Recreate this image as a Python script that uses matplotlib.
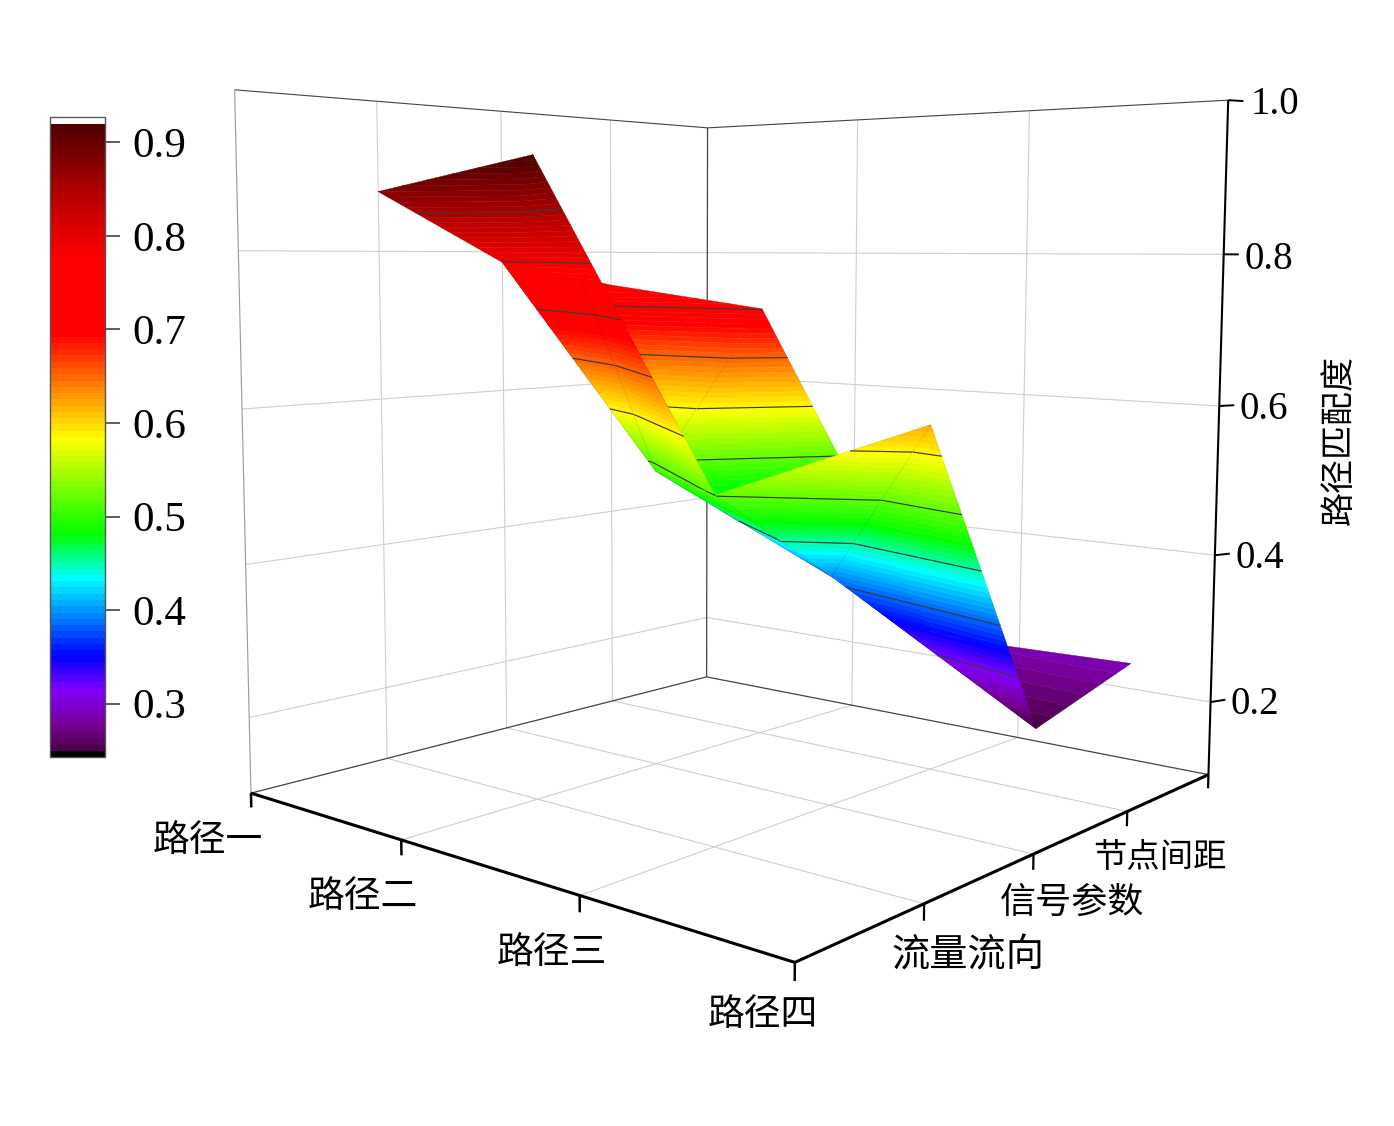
import matplotlib
matplotlib.use("Agg")
import matplotlib.pyplot as plt
import matplotlib.tri as mtri
import numpy as np
from matplotlib.cm import ScalarMappable
from matplotlib.colors import LinearSegmentedColormap, Normalize
from mpl_toolkits.mplot3d.art3d import Poly3DCollection

plt.rcParams["font.family"] = ["Noto Sans CJK SC", "DejaVu Sans"]
DIGITS = "Liberation Serif"

# data
paths = ["路径一", "路径二", "路径三", "路径四"]
params = ["流量流向", "信号参数", "节点间距"]
x_pos = [1, 2, 3, 4]
y_pos = [1, 2, 3]
z_flow = [0.88, 0.92, 0.52, 0.62]
z_signal = [0.785, 0.505, 0.395, 0.25]
z_spacing = [0.75, 0.72, 0.285, 0.29]
z_ticks = [0.2, 0.4, 0.6, 0.8, 1.0]
cbar_ticks = [0.3, 0.4, 0.5, 0.6, 0.7, 0.8, 0.9]
levels = [0.317, 0.384, 0.451, 0.518, 0.585, 0.652, 0.719, 0.786, 0.853]

W, H = 1394, 1126
X0, X1, Y0, Y1, Z0, Z1 = 1, 4, 0, 4, 0.1, 1.0
N_BANDS = 100

# rainbow with fine steps, like the source's colour map
vmin, vmax = 0.25, 0.92
stops = [
    (0.25, "#500050"), (0.275, "#780098"), (0.313, "#7f00ff"), (0.348, "#0000ff"),
    (0.433, "#00ffff"), (0.48, "#00ff00"), (0.582, "#ffff00"), (0.64, "#ff8000"),
    (0.695, "#ff0000"), (0.777, "#ff0000"), (0.838, "#c00000"), (0.92, "#500000"),
]
cmap = LinearSegmentedColormap.from_list(
    "bands", [((v - vmin) / (vmax - vmin), c) for v, c in stops], N=N_BANDS
).with_extremes(under="black", over="white")
norm = Normalize(vmin, vmax)

fig = plt.figure(figsize=(W / 100, H / 100), dpi=100, facecolor="white")
ax = fig.add_axes([0.1030, 0.0737, 0.8343, 1.0329], projection="3d")
ax.computed_zorder = False
ax.set_axis_off()
ax.patch.set_visible(False)
ax.set_xlim(X0, X1, view_margin=0)
ax.set_ylim(Y0, Y1, view_margin=0)
ax.set_zlim(Z0, Z1, view_margin=0)
ax.set_box_aspect((1.6320, 1.6233, 1.6284))
ax.view_init(elev=5.809, azim=-49.841, roll=-0.205)
ax.set_proj_type("persp", focal_length=0.3004)


def line(xs, ys, zs, color="#cfcfcf", lw=0.8, zorder=1, **kw):
    ax.plot(xs, ys, zs, color=color, lw=lw, zorder=zorder, solid_capstyle="butt", **kw)


def clip_band(poly, lo, hi):
    """Cut a planar polygon down to the part with lo <= z <= hi."""
    for limit, sign in ((lo, 1), (hi, -1)):
        out = []
        for a, b in zip(poly, poly[1:] + poly[:1]):
            da, db = sign * (a[2] - limit), sign * (b[2] - limit)
            if da >= 0:
                out.append(a)
            if da * db < 0:
                out.append(a + (b - a) * da / (da - db))
        poly = out
        if len(poly) < 3:
            return []
    return poly


# walls and floor grid
for x in x_pos[1:-1]:
    line([x, x], [Y1, Y1], [Z0, Z1])
    line([x, x], [Y0, Y1], [Z0, Z0])
for y in y_pos:
    line([X0, X0], [y, y], [Z0, Z1])
    line([X0, X1], [y, y], [Z0, Z0])
for z in z_ticks[:-1]:
    line([X0, X0], [Y0, Y1], [z, z])
    line([X0, X1], [Y1, Y1], [z, z])

# box edges
edge = "#444444"
line([X0, X0], [Y1, Y1], [Z0, Z1], edge, 0.9)
line([X0, X0], [Y0, Y1], [Z1, Z1], edge, 0.8)
line([X0, X1], [Y1, Y1], [Z1, Z1], edge, 0.8)
line([X0, X0], [Y0, Y1], [Z0, Z0], edge, 0.9)
line([X0, X1], [Y1, Y1], [Z0, Z0], edge, 0.9)
line([X0, X0], [Y0, Y0], [Z0, Z1], "#999999", 0.8)

# surface: triangles painted from the back of the box to the front
xs = np.array([x for x in x_pos for _ in y_pos], float)
ys = np.array([y for _ in x_pos for y in y_pos], float)
zs = np.array([v for i in range(4) for v in (z_flow[i], z_signal[i], z_spacing[i])])


def vid(i, j):
    return 3 * i + j


order = [
    # signal to spacing row
    (vid(0, 1), vid(0, 2), vid(1, 1)), (vid(0, 2), vid(1, 2), vid(1, 1)),
    (vid(1, 1), vid(1, 2), vid(2, 2)), (vid(1, 1), vid(2, 2), vid(2, 1)),
    (vid(2, 2), vid(3, 2), vid(3, 1)), (vid(2, 2), vid(3, 1), vid(2, 1)),
    # flow to signal row
    (vid(0, 0), vid(1, 0), vid(0, 1)), (vid(1, 0), vid(1, 1), vid(0, 1)),
    (vid(1, 0), vid(2, 0), vid(1, 1)), (vid(2, 0), vid(2, 1), vid(1, 1)),
    (vid(2, 0), vid(3, 0), vid(2, 1)), (vid(3, 0), vid(3, 1), vid(2, 1)),
]
edges = np.linspace(vmin, vmax, N_BANDS + 1)
zo = 10
for tri_ids in order:
    ids = list(tri_ids)
    z = zs[ids]
    corners = [np.array([xs[i], ys[i], zs[i]]) for i in ids]
    polys, cols = [], []
    for lo, hi in zip(edges[:-1], edges[1:]):
        p = clip_band(corners, lo, hi)
        if p:
            polys.append(p)
            cols.append(cmap(norm((lo + hi) / 2)))
    ax.add_collection3d(Poly3DCollection(polys, facecolors=cols, edgecolors=cols, linewidths=0.3, zorder=zo))
    lv = [v for v in levels if z.min() < v < z.max()]
    if lv:
        t = mtri.Triangulation(xs[ids], ys[ids], [[0, 1, 2]])
        ax.tricontour(t, z, levels=lv, colors="#3a3a3a", linewidths=0.85, zorder=zo + 1)
    loop = ids + ids[:1]
    line(xs[loop], ys[loop], zs[loop], "black", 0.5, zo + 1, alpha=0.09)
    zo += 2

# front axes and ticks
line([X0, X1], [Y0, Y0], [Z0, Z0], "black", 2.2, 100)
line([X1, X1], [Y0, Y1], [Z0, Z0], "black", 2.2, 100)
line([X1, X1], [Y1, Y1], [Z0, Z1], "black", 1.5, 100)
for x in x_pos:
    line([x, x], [Y0, Y0], [Z0, Z0 - 0.019], "black", 1.8, 100)
for y in y_pos + [Y1]:
    line([X1, X1], [y, y], [Z0, Z0 - 0.019], "black", 1.6, 100)
for z in z_ticks:
    line([X1, X1 + 0.03], [Y1, Y1 + 0.115], [z, z], "black", 1.4, 100)


def label(px, py, s, **kw):
    fig.text(px / W, 1 - py / H, s, ha="center", va="center", **kw)


for (px, py), s in zip([(208, 841), (363, 896), (552, 953), (763, 1015)], paths):
    label(px, py, s, fontsize=26.5)
for (px, py, fs), s in zip([(968, 956, 27.5), (1072, 903, 26), (1160, 858, 24)], params):
    label(px, py, s, fontsize=fs)
for (px, py), v in zip([(1255, 705), (1260, 558), (1264, 409), (1269, 259), (1275, 104)], z_ticks):
    label(px, py, f"{v:.1f}", fontsize=28, family=DIGITS)
label(1339, 440, "路径匹配度", fontsize=24.5, rotation=90)

# colour bar
cax = fig.add_axes([50 / W, 1 - 757 / H, 55 / W, 640 / H])
cb = fig.colorbar(
    ScalarMappable(norm=norm, cmap=cmap), cax=cax, extend="both",
    extendrect=True, extendfrac=6.5 / 627, ticks=cbar_ticks,
)
cb.outline.set_edgecolor("#555555")
cb.outline.set_linewidth(1.0)
cax.tick_params(axis="y", length=10.8, width=1.1, pad=9, color="#333333", labelsize=31)
for t in cax.get_yticklabels():
    t.set_family(DIGITS)

fig.savefig("out.png", dpi=100, facecolor="white")
